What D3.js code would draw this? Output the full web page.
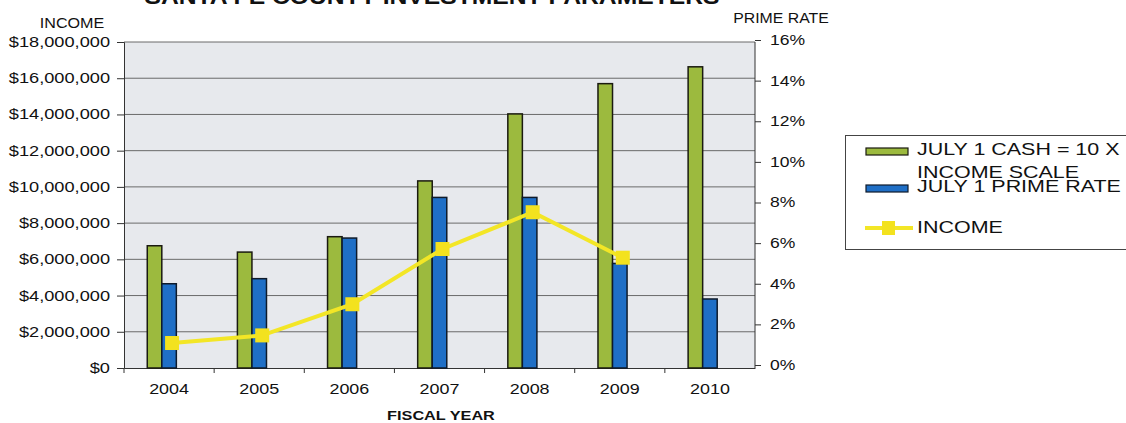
<!DOCTYPE html>
<html><head><meta charset="utf-8">
<script src="https://cdn.jsdelivr.net/npm/d3@7"></script>
<style>body{margin:0;background:#fff}svg{display:block}text{font-family:"Liberation Sans",Arial,sans-serif}</style>
</head><body><svg id="c" width="1126" height="423"></svg>
<script>
const years = ["2004","2005","2006","2007","2008","2009","2010"];
const cash = [6750000, 6400000, 7250000, 10330000, 14030000, 15700000, 16630000];
const prime = [4.0, 4.25, 6.25, 8.25, 8.25, 5.0, 3.25];
const income = [1380000, 1800000, 3520000, 6570000, 8600000, 6090000];
const leftTicks = [0,2e6,4e6,6e6,8e6,10e6,12e6,14e6,16e6,18e6];
const rightTicks = [0,2,4,6,8,10,12,14,16];

const svg = d3.select("#c");
const L = 124, R = 755, T = 42, B = 368;
const x = d3.scaleBand().domain(years).range([L, R]);
const xs = d3.scaleBand().domain(["cash","prime","spare"]).range([0, x.bandwidth()]).paddingOuter(1.6);
const yL = d3.scaleLinear().domain([0, 18e6]).range([B, T]);
const yR = d3.scaleLinear().domain([0, 16]).range([B - 3, T - 2]);

// horizontal stretch to mimic the wide scanned lettering
function stretch(sel, f) {
  sel.each(function () {
    const w = this.getComputedTextLength();
    d3.select(this).attr("textLength", w * f).attr("lengthAdjust", "spacingAndGlyphs");
  });
}

svg.append("rect").attr("x", L).attr("y", T).attr("width", R - L).attr("height", B - T).attr("fill", "#e7e9ed");

svg.append("g").selectAll("line").data(leftTicks.slice(1)).join("line")
  .attr("x1", L).attr("x2", R).attr("y1", d => yL(d)).attr("y2", d => yL(d))
  .attr("stroke", "#6a6a6a").attr("stroke-width", 1);

const fmt = d => "$" + d3.format(",")(d);
const gl = svg.append("g").attr("transform", `translate(${L},0)`)
  .call(d3.axisLeft(yL).tickValues(leftTicks).tickFormat(fmt).tickSize(7).tickPadding(7));
gl.selectAll("text").attr("font-size", 14).attr("fill", "#111").call(stretch, 1.3);
gl.selectAll("line,path").attr("stroke", "#333");

const gr = svg.append("g").attr("transform", `translate(${R},0)`)
  .call(d3.axisRight(yR).tickValues(rightTicks).tickFormat(d => d + "%").tickSize(6).tickPadding(9));
gr.select("path").attr("d", `M0,${T}V${B}`);
gr.selectAll("text").attr("font-size", 14).attr("fill", "#111").call(stretch, 1.25);
gr.selectAll("line,path").attr("stroke", "#333");

const gb = svg.append("g").attr("transform", `translate(0,${B})`)
  .call(d3.axisBottom(x).tickSize(0).tickPadding(16));
gb.select("path").attr("stroke", "#333");
gb.selectAll("text").attr("font-size", 14).attr("fill", "#111").call(stretch, 1.28);
svg.append("g").selectAll("line").data(years).join("line")
  .attr("x1", d => x(d)).attr("x2", d => x(d)).attr("y1", B).attr("y2", B + 5).attr("stroke", "#333");

const bars = svg.append("g");
bars.selectAll(".g").data(years).join("rect")
  .attr("x", d => x(d) + xs("cash")).attr("width", xs.bandwidth())
  .attr("y", (d, i) => yL(cash[i])).attr("height", (d, i) => B - yL(cash[i]))
  .attr("fill", "#9cba3e").attr("stroke", "#1a1a10").attr("stroke-width", 1.5);
bars.selectAll(".b").data(years).join("rect")
  .attr("x", d => x(d) + xs("prime")).attr("width", xs.bandwidth())
  .attr("y", (d, i) => yR(prime[i])).attr("height", (d, i) => yR(0) + 3 - yR(prime[i]))
  .attr("fill", "#1f6fc6").attr("stroke", "#0e1a2a").attr("stroke-width", 1.5);

const cx = d => x(d) + x.bandwidth() / 2 + 3;
const line = d3.line().x((d, i) => cx(years[i])).y(d => yL(d));
svg.append("path").datum(income).attr("d", line).attr("fill", "none")
  .attr("stroke", "#f3e626").attr("stroke-width", 4);
svg.append("g").selectAll("rect").data(income).join("rect")
  .attr("x", (d, i) => cx(years[i]) - 7).attr("y", d => yL(d) - 7)
  .attr("width", 14).attr("height", 14).attr("fill", "#f3e21e");

svg.append("text").attr("x", 432).attr("y", 4).attr("text-anchor", "middle")
  .attr("font-size", 22).attr("font-weight", "bold").attr("textLength", 575)
  .attr("lengthAdjust", "spacingAndGlyphs").attr("fill", "#111")
  .text("SANTA FE COUNTY INVESTMENT PARAMETERS");
svg.append("text").attr("x", 72).attr("y", 28).attr("text-anchor", "middle").attr("font-size", 14)
  .attr("fill", "#111").text("INCOME").call(stretch, 1.15);
svg.append("text").attr("x", 781).attr("y", 23).attr("text-anchor", "middle").attr("font-size", 14)
  .attr("fill", "#111").text("PRIME RATE").call(stretch, 1.13);
svg.append("text").attr("x", 441).attr("y", 420).attr("text-anchor", "middle").attr("font-size", 13)
  .attr("font-weight", "bold").attr("fill", "#111").text("FISCAL YEAR").call(stretch, 1.25);

const lg = svg.append("g");
lg.append("rect").attr("x", 845.5).attr("y", 135.5).attr("width", 300).attr("height", 114)
  .attr("fill", "#fff").attr("stroke", "#444");
lg.append("rect").attr("x", 866).attr("y", 148).attr("width", 42).attr("height", 7)
  .attr("fill", "#9cba3e").attr("stroke", "#1a1a10").attr("stroke-width", 1.2);
lg.append("rect").attr("x", 866).attr("y", 185).attr("width", 42).attr("height", 7)
  .attr("fill", "#1f6fc6").attr("stroke", "#0e1a2a").attr("stroke-width", 1.2);
lg.append("line").attr("x1", 865).attr("x2", 913).attr("y1", 228).attr("y2", 228)
  .attr("stroke", "#f3e626").attr("stroke-width", 4);
lg.append("rect").attr("x", 882).attr("y", 221).attr("width", 13).attr("height", 14).attr("fill", "#f3e21e");
const lt = [["JULY 1 CASH = 10 X", 155], ["INCOME SCALE", 178], ["JULY 1 PRIME RATE", 192], ["INCOME", 233]];
lg.selectAll("text").data(lt).join("text").attr("x", 917).attr("y", d => d[1])
  .attr("font-size", 16.5).attr("fill", "#111").text(d => d[0]).call(stretch, 1.3);
</script></body></html>
